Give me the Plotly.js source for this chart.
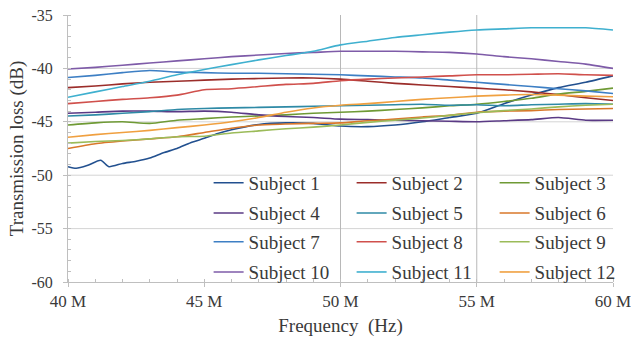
<!DOCTYPE html>
<html>
<head>
<meta charset="utf-8">
<script src="https://cdn.plot.ly/plotly-3.0.1.min.js"></script>
<style>
html,body{margin:0;padding:0;background:#fff;}
#chart{width:631px;height:338px;}
</style>
</head>
<body>
<div id="chart"></div>
<script>
// Frequency in MHz
const freq = [40,41,42,43,44,45,46,47,48,49,50,51,52,53,54,55,56,57,58,59,60];
const freq1 = [40,40.3,40.7,41.2,41.5,42,42.5,43,43.5,44,44.5,45,45.5,46,47,48,49,50,51,52,53,54,55,56,57,58,59,60];

const subject1 = [-49.2,-49.35,-49.1,-48.6,-49.2,-48.9,-48.7,-48.4,-47.9,-47.5,-46.95,-46.55,-46.1,-45.75,-45.25,-45.1,-45.15,-45.4,-45.45,-45.3,-45.0,-44.6,-44.2,-43.3,-42.5,-41.8,-41.3,-40.7];
const subject2 = [-41.8,-41.65,-41.45,-41.3,-41.2,-41.1,-41.0,-40.95,-40.9,-40.9,-41.0,-41.2,-41.4,-41.55,-41.7,-41.85,-42.0,-42.2,-42.45,-42.75,-43.0];
const subject3 = [-45.3,-45.1,-45.0,-45.15,-44.85,-44.7,-44.55,-44.45,-44.35,-44.2,-44.1,-44.0,-43.85,-43.7,-43.5,-43.35,-43.1,-42.8,-42.4,-42.15,-41.85];
const subject4 = [-44.2,-44.1,-44.0,-44.0,-44.05,-44.0,-44.1,-44.35,-44.5,-44.6,-44.75,-44.8,-44.85,-44.9,-44.95,-45.0,-44.9,-44.8,-44.6,-44.85,-44.85];
const subject5 = [-44.45,-44.35,-44.2,-44.05,-43.85,-43.75,-43.7,-43.65,-43.6,-43.55,-43.5,-43.45,-43.4,-43.35,-43.45,-43.4,-43.5,-43.4,-43.35,-43.3,-43.35];
const subject6 = [-47.5,-47.05,-46.8,-46.6,-46.4,-46.0,-45.6,-45.3,-45.2,-45.15,-45.1,-44.9,-44.75,-44.55,-44.4,-44.1,-44.0,-43.95,-43.85,-43.8,-43.75];
const subject7 = [-40.85,-40.65,-40.4,-40.2,-40.35,-40.4,-40.45,-40.45,-40.5,-40.55,-40.6,-40.7,-40.8,-40.9,-41.1,-41.3,-41.5,-41.7,-41.9,-42.1,-42.35];
const subject8 = [-43.3,-43.1,-42.9,-42.75,-42.5,-42.0,-41.9,-41.7,-41.5,-41.4,-41.15,-41.0,-40.9,-40.8,-40.7,-40.6,-40.6,-40.55,-40.5,-40.6,-40.65];
const subject9 = [-47.0,-46.85,-46.75,-46.6,-46.4,-46.35,-46.05,-45.85,-45.65,-45.5,-45.3,-45.05,-44.85,-44.65,-44.4,-44.15,-43.95,-43.8,-43.6,-43.45,-43.35];
const subject10 = [-40.05,-39.9,-39.7,-39.5,-39.3,-39.1,-38.9,-38.75,-38.6,-38.5,-38.4,-38.4,-38.4,-38.45,-38.5,-38.65,-38.9,-39.1,-39.35,-39.6,-40.0];
const subject11 = [-42.7,-42.2,-41.7,-41.2,-40.6,-40.1,-39.65,-39.2,-38.8,-38.4,-37.8,-37.45,-37.1,-36.85,-36.6,-36.4,-36.3,-36.2,-36.2,-36.2,-36.4];
const subject12 = [-46.45,-46.2,-46.0,-45.8,-45.55,-45.3,-45.0,-44.6,-44.1,-43.7,-43.45,-43.3,-43.1,-42.9,-42.75,-42.6,-42.5,-42.45,-42.5,-42.6,-42.65];

const names = ["Subject 1","Subject 2","Subject 3","Subject 4","Subject 5","Subject 6","Subject 7","Subject 8","Subject 9","Subject 10","Subject 11","Subject 12"];
const colors = ["#22508f","#9b2d2a","#6f9a35","#5a3a85","#2e8aa6","#d9772a","#3d7fc4","#d0504c","#9bbb59","#7e5ba8","#3fb0cf","#f0a040"];

const xTickVals = [40,45,50,55,60];
const xTickText = ["40 M","45 M","50 M","55 M","60 M"];
const yTickVals = [-60,-55,-50,-45,-40,-35];
const yTickText = ["-60","-55","-50","-45","-40","-35"];
const gridY = [-55,-50,-45,-40];
const gridX = [50,55];

const series = [subject1,subject2,subject3,subject4,subject5,subject6,subject7,subject8,subject9,subject10,subject11,subject12];
const legendIds = ["legend","legend","legend","legend2","legend2","legend2","legend3","legend3","legend3","legend4","legend4","legend4"];

const traces = series.map((ys,i)=>({
  type:"scatter", mode:"lines",
  x: i===0 ? freq1 : freq,
  y: ys,
  name: names[i],
  legend: legendIds[i],
  line:{color:colors[i], width:1.6, shape:"spline", smoothing:0.6}
}));

const FAM = "Liberation Serif";
const TXT = "#3a3a3a";
function mkLegend(yv){
  return {orientation:"h", x:0.258, xanchor:"left", y:yv, yanchor:"middle",
    bgcolor:"rgba(0,0,0,0)", entrywidth:98, entrywidthmode:"pixels",
    font:{family:FAM, color:TXT, size:19}, itemwidth:30, tracegroupgap:0};
}

const shapes = [];
gridY.forEach(v=>shapes.push({type:"line", xref:"paper", yref:"y", x0:0, x1:1, y0:v, y1:v, line:{color:"#d4d4d4", width:1}, layer:"below"}));
gridX.forEach(v=>shapes.push({type:"line", xref:"x", yref:"paper", x0:v, x1:v, y0:0, y1:1, line:{color:"#b8b8b8", width:1}, layer:"below"}));

const layout = {
  width:631, height:338,
  margin:{l:68, r:18, t:15, b:56, autoexpand:false},
  paper_bgcolor:"#fff", plot_bgcolor:"#fff",
  font:{family:FAM, color:TXT},
  showlegend:true,
  legend: mkLegend(0.371),
  legend2: mkLegend(0.258),
  legend3: mkLegend(0.150),
  legend4: mkLegend(0.037),
  xaxis:{
    range:[40,60], tickmode:"array", tickvals:xTickVals, ticktext:xTickText,
    showgrid:false, zeroline:false, showline:true, linecolor:"#bfbfbf", linewidth:1,
    ticks:"outside", ticklen:4, tickcolor:"#bfbfbf", ticklabeloverflow:"allow",
    minor:{dtick:1, ticks:"inside", ticklen:3, tickcolor:"#bfbfbf", showgrid:false},
    tickfont:{size:17, family:FAM, color:TXT},
    title:{text:"Frequency  (Hz)", font:{size:19, family:FAM, color:TXT}, standoff:8}
  },
  yaxis:{
    range:[-60,-35], tickmode:"array", tickvals:yTickVals, ticktext:yTickText,
    showgrid:false, zeroline:false, showline:true, linecolor:"#bfbfbf", linewidth:1,
    ticks:"outside", ticklen:4, tickcolor:"#bfbfbf", ticklabelstandoff:7,
    minor:{dtick:1, ticks:"inside", ticklen:3, tickcolor:"#bfbfbf", showgrid:false},
    tickfont:{size:16, family:FAM, color:TXT},
    title:{text:"Transmission loss (dB)", font:{size:19, family:FAM, color:TXT}, standoff:2}
  },
  shapes:shapes
};

Plotly.newPlot("chart", traces, layout, {displayModeBar:false, staticPlot:true});
</script>
</body>
</html>
